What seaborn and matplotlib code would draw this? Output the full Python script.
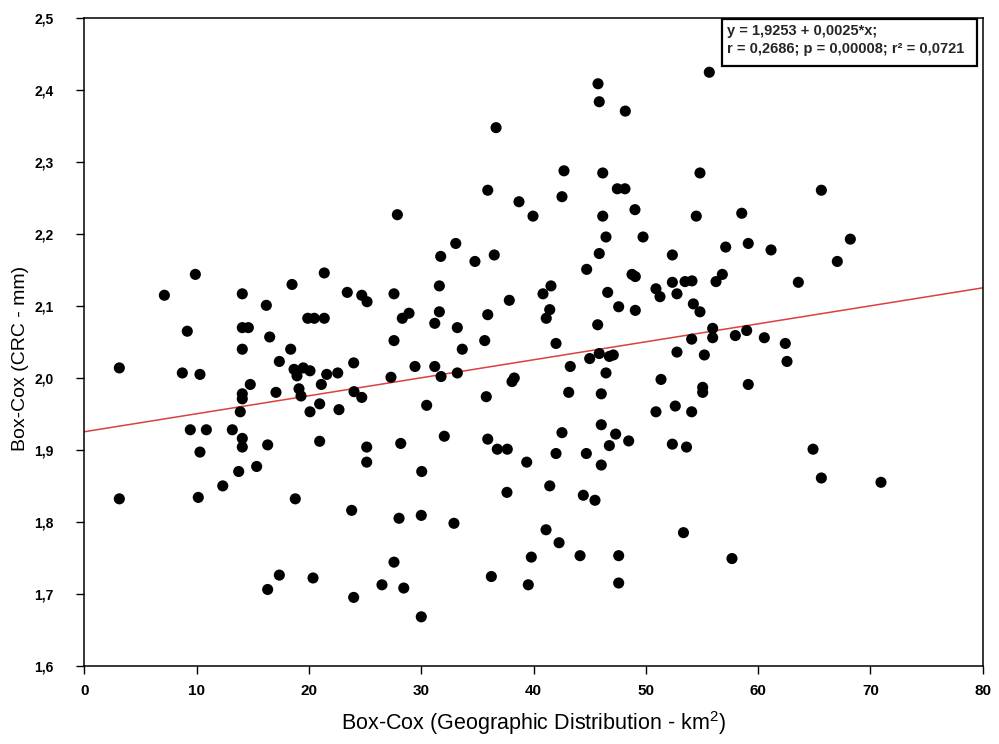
import matplotlib
matplotlib.use('Agg')
import matplotlib.pyplot as plt
import seaborn as sns
import pandas as pd
from matplotlib.ticker import FuncFormatter, FixedLocator
from matplotlib.patches import Rectangle

# ---- data ----
geo_dist = [
    9.88, 18.49, 21.36, 45.74, 45.85, 48.17, 36.66, 42.71, 46.16, 47.46,
    48.14, 35.92, 38.70, 42.53, 39.95, 27.87, 49.03, 46.16, 46.45, 49.75,
    33.07, 31.73, 34.78, 36.50, 45.85, 52.36, 44.73, 48.77, 49.06, 52.36,
    53.49, 55.65, 54.82, 65.63, 54.49, 58.54, 68.21, 57.11, 59.12, 61.15,
    67.05, 56.81, 54.11, 56.25, 63.58,
    7.12, 14.06, 23.41, 24.70, 25.17, 16.20, 9.16, 14.06, 14.60, 19.89,
    20.47, 21.36, 16.50, 14.06, 18.37, 3.11, 8.72, 10.29, 17.36, 18.67,
    19.49, 20.09, 18.93, 21.58, 22.56, 23.98, 14.77, 14.06, 14.06, 13.88,
    17.06, 19.11, 19.29, 21.10, 24.01, 24.70, 20.95, 20.09, 22.67, 9.43,
    10.86, 13.17, 14.06, 14.06, 16.32, 20.95, 25.14, 25.14, 10.29, 15.34,
    13.74, 12.32, 3.11, 10.14, 18.78, 23.80, 17.36, 16.32, 20.36, 23.98,
    26.50,
    27.57, 31.61, 28.31, 28.91, 31.61, 31.20, 33.21, 37.84, 35.92, 40.84,
    41.55, 41.44, 41.13, 46.60, 47.58, 49.06, 50.90, 51.26, 52.77, 45.71,
    27.57, 33.65, 35.65, 42.00, 29.44, 31.20, 27.30, 31.76, 33.21, 38.28,
    38.08, 43.27, 45.00, 45.85, 46.75, 47.10, 46.45, 52.77, 51.35, 43.13,
    46.03, 35.79, 30.48, 50.90, 52.62, 46.03, 42.53, 47.31, 48.47, 46.75,
    32.05, 35.92, 36.77, 37.66, 28.17, 42.00, 44.70, 52.36, 53.62, 39.39,
    46.03, 30.04, 37.63, 41.44, 44.43, 45.47,
    28.02, 30.00, 32.91, 27.57, 28.44, 30.00, 36.24, 39.53, 39.80, 41.11,
    42.27, 44.14, 47.58, 47.58, 53.35, 57.67,
    54.23, 54.82, 55.95, 54.08, 55.95, 57.97, 58.98, 60.55, 62.42, 62.57,
    55.21, 59.12, 55.06, 55.06, 54.08, 64.89, 65.63, 70.94,
]
crc = [
    2.144, 2.130, 2.146, 2.409, 2.384, 2.371, 2.348, 2.288, 2.285, 2.263,
    2.263, 2.261, 2.245, 2.252, 2.225, 2.227, 2.234, 2.225, 2.196, 2.196,
    2.187, 2.169, 2.162, 2.171, 2.173, 2.171, 2.151, 2.144, 2.141, 2.133,
    2.134, 2.425, 2.285, 2.261, 2.225, 2.229, 2.193, 2.182, 2.187, 2.178,
    2.162, 2.144, 2.135, 2.134, 2.133,
    2.115, 2.117, 2.119, 2.115, 2.106, 2.101, 2.065, 2.070, 2.070, 2.083,
    2.083, 2.083, 2.057, 2.040, 2.040, 2.014, 2.007, 2.005, 2.023, 2.012,
    2.014, 2.010, 2.003, 2.005, 2.007, 2.021, 1.991, 1.978, 1.971, 1.953,
    1.980, 1.985, 1.975, 1.991, 1.981, 1.973, 1.964, 1.953, 1.956, 1.928,
    1.928, 1.928, 1.916, 1.904, 1.907, 1.912, 1.904, 1.883, 1.897, 1.877,
    1.870, 1.850, 1.832, 1.834, 1.832, 1.816, 1.726, 1.706, 1.722, 1.695,
    1.7125,
    2.117, 2.128, 2.083, 2.090, 2.092, 2.076, 2.070, 2.108, 2.088, 2.117,
    2.128, 2.095, 2.083, 2.119, 2.099, 2.094, 2.124, 2.113, 2.117, 2.074,
    2.052, 2.040, 2.052, 2.048, 2.016, 2.016, 2.001, 2.002, 2.007, 2.000,
    1.995, 2.016, 2.027, 2.034, 2.030, 2.032, 2.007, 2.036, 1.998, 1.980,
    1.978, 1.974, 1.962, 1.953, 1.961, 1.935, 1.924, 1.922, 1.9125, 1.906,
    1.919, 1.915, 1.901, 1.901, 1.909, 1.895, 1.895, 1.908, 1.904, 1.883,
    1.879, 1.870, 1.841, 1.850, 1.837, 1.830,
    1.805, 1.809, 1.798, 1.744, 1.708, 1.668, 1.724, 1.7125, 1.751, 1.789,
    1.771, 1.753, 1.753, 1.715, 1.785, 1.749,
    2.103, 2.092, 2.069, 2.054, 2.056, 2.059, 2.066, 2.056, 2.048, 2.023,
    2.032, 1.991, 1.987, 1.980, 1.953, 1.901, 1.861, 1.855,
]

fit_intercept = 1.9253
fit_slope = 0.0025
fit_range = [0, 80]

x_ticks = [0, 10, 20, 30, 40, 50, 60, 70, 80]
y_ticks = [1.6, 1.7, 1.8, 1.9, 2.0, 2.1, 2.2, 2.3, 2.4, 2.5]

eq_text_1 = "y = 1,9253 + 0,0025*x;"
eq_text_2 = "r = 0,2686; p = 0,00008; r² = 0,0721"
x_label = "Box-Cox (Geographic Distribution - km$^{2}$)"
y_label = "Box-Cox (CRC - mm)"

# ---- style ----
sns.set_theme(style='white')
plt.rcParams['font.family'] = ['Liberation Sans', 'DejaVu Sans']
plt.rcParams['mathtext.fontset'] = 'custom'
plt.rcParams['mathtext.rm'] = 'Liberation Sans'
plt.rcParams['mathtext.it'] = 'Liberation Sans:italic'
plt.rcParams['mathtext.default'] = 'regular'

fig = plt.figure(figsize=(9.99, 7.44), dpi=100)
ax = fig.add_axes([0.0845, 0.1052, 0.8992, 0.8702])

df = pd.DataFrame({'geo': geo_dist, 'crc': crc})
fit_df = pd.DataFrame({'geo': fit_range,
                       'crc': [fit_intercept + fit_slope * v for v in fit_range]})

sns.lineplot(data=fit_df, x='geo', y='crc', ax=ax, color='#dc4040',
             linewidth=1.1, zorder=2)
sns.scatterplot(data=df, x='geo', y='crc', ax=ax, color='black', s=64,
                edgecolor='none', linewidth=0, zorder=3)

ax.set_xlim(0, 80)
ax.set_ylim(1.6, 2.5)
ax.xaxis.set_major_locator(FixedLocator(x_ticks))
ax.yaxis.set_major_locator(FixedLocator(y_ticks))
ax.xaxis.set_major_formatter(FuncFormatter(lambda v, p: f"{v:.0f}"))
ax.yaxis.set_major_formatter(FuncFormatter(lambda v, p: f"{v:.1f}".replace('.', ',')))

for side in ['left', 'bottom', 'right', 'top']:
    ax.spines[side].set_visible(True)
    ax.spines[side].set_color('black')
    ax.spines[side].set_linewidth(1.1)

ax.tick_params(axis='both', which='major', direction='out', length=6, width=1,
               color='black', left=True, bottom=True)
ax.tick_params(axis='x', pad=7, labelsize=11)
ax.tick_params(axis='y', pad=16, labelsize=10)
for lab in ax.get_xticklabels() + ax.get_yticklabels():
    lab.set_fontweight('bold')
    lab.set_color('black')

ax.set_xlabel(x_label, fontsize=15.5, color='black', labelpad=8)
ax.set_ylabel(y_label, fontsize=14, color='black')
ax.yaxis.set_label_coords(-0.062, 0.475)

# equation box
ax.add_patch(Rectangle((0.710, 0.926), 0.2836, 0.073, transform=ax.transAxes,
                       fill=True, facecolor='white', edgecolor='black',
                       linewidth=1.6, zorder=5))
ax.text(0.7155, 0.981, eq_text_1, transform=ax.transAxes, fontsize=10.5,
        fontweight='bold', va='center', ha='left', zorder=6)
ax.text(0.7155, 0.953, eq_text_2, transform=ax.transAxes, fontsize=10.5,
        fontweight='bold', va='center', ha='left', zorder=6)

fig.savefig('out.png', dpi=100, facecolor='white')
